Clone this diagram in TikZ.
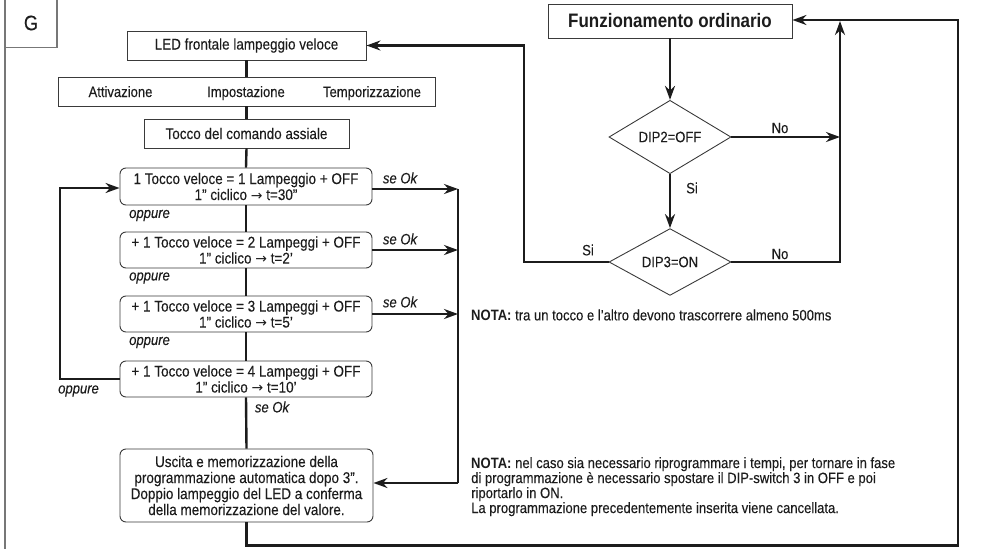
\documentclass[tikz,border=0pt]{standalone}
\usepackage{fontspec}
\setmainfont[FakeStretch=0.87, UprightFeatures={FakeBold=0.2}, ItalicFeatures={FakeBold=0.2}]{Liberation Sans}
\newfontfamily\arrowfont[Scale=0.9]{DejaVu Sans}
\newcommand{\myarrow}{{\arrowfont →}}
\usetikzlibrary{arrows.meta,shapes.geometric}
\definecolor{boxgray}{HTML}{3A3A3A}
\definecolor{linecol}{HTML}{1C1C1C}
\definecolor{framegray}{HTML}{777777}
\begin{document}
\begin{tikzpicture}[x=1pt,y=-1pt,
  box/.style={draw=boxgray, line width=0.9pt, inner sep=0pt, font=\fontsize{15.5}{16}\selectfont, text=linecol},
  rbox/.style={box, rounded corners=6pt, align=center, minimum width=252, minimum height=36},
  conn/.style={line width=2.4pt, draw=linecol},
  arr/.style={conn, -{Stealth[length=14pt,width=10pt]}},
  lbl/.style={font=\fontsize{15}{15}\selectfont\itshape, inner sep=0pt, text=linecol},
  plain/.style={font=\fontsize{15}{15}\selectfont, inner sep=0pt, text=linecol},
  dia/.style={draw=boxgray, line width=0.9pt, diamond, inner sep=0pt, minimum width=122, minimum height=62, font=\fontsize{15}{15}\selectfont, text=linecol}
]
\useasboundingbox (0,0) rectangle (1002,549);
% frame
\draw[framegray, line width=1.8pt] (5,0) -- (5,549);
\draw[framegray, line width=1.2pt] (5,47.5) -- (57,47.5) -- (57,0);
\node[font=\fontsize{21}{22}\selectfont, text=linecol] (g) at (31,23) {G};

% left column
\node[box, minimum width=239, minimum height=29] (led) at (246.5,45.5) {LED frontale lampeggio veloce};
\node[box, minimum width=377, minimum height=29] (att) at (246.5,91.5) {};
\node[plain, anchor=base] (t1) at (120.5,97) {Attivazione};
\node[plain, anchor=base] (t2) at (246,97) {Impostazione};
\node[plain, anchor=base] (t3) at (372,97) {Temporizzazione};
\node[box, minimum width=205, minimum height=29] (tocco) at (246.5,133.5) {Tocco del comando assiale};

\node[rbox, minimum height=37] (b1) at (246,186.5) {1 Tocco veloce = 1 Lampeggio + OFF\\1” ciclico \myarrow{} t=30”};
\node[rbox] (b2) at (246,250) {+ 1 Tocco veloce = 2 Lampeggi + OFF\\1” ciclico \myarrow{} t=2’};
\node[rbox] (b3) at (246,314) {+ 1 Tocco veloce = 3 Lampeggi + OFF\\1” ciclico \myarrow{} t=5’};
\node[rbox] (b4) at (246,379) {+ 1 Tocco veloce = 4 Lampeggi + OFF\\1” ciclico \myarrow{} t=10’};
\node[rbox, minimum width=253, minimum height=73] (usc) at (246.5,485.5) {Uscita e memorizzazione della\\programmazione automatica dopo 3”.\\Doppio lampeggio del LED a conferma\\della memorizzazione del valore.};

\node[lbl, anchor=west] (o1) at (129,215.5) {oppure};
\node[lbl, anchor=west] (o2) at (129,278) {oppure};
\node[lbl, anchor=west] (o3) at (129,342.5) {oppure};
\node[lbl, anchor=west] (o4) at (58,391) {oppure};

\node[lbl] (s1) at (400,178) {se Ok};
\node[lbl] (s2) at (400,239) {se Ok};
\node[lbl] (s3) at (400,302) {se Ok};
\node[lbl] (s4) at (272,407) {se Ok};

% vertical chain
\draw[conn] (led.south) -- (att.north);
\draw[conn] (att.south) -- (tocco.north);
\draw[conn] (tocco.south) -- (b1.north);
\draw[conn] (b1.south) -- (b2.north);
\draw[conn] (b2.south) -- (b3.north);
\draw[conn] (b3.south) -- (b4.north);
\draw[conn] (b4.south) -- (usc.north);

% se Ok arrows
\coordinate (v1) at (458,189);
\coordinate (v2) at (458,250);
\coordinate (v3) at (458,314);
\coordinate (v4) at (458,483);
\draw[arr] (b1.east |- v1) -- (v1);
\draw[arr] (b2.east) -- (v2);
\draw[arr] (b3.east) -- (v3);
\draw[conn] (v1) -- (v4);
\draw[arr] (v4) -- (usc.east |- v4);

% loop back
\coordinate (l1) at (60,379);
\coordinate (l2) at (60,188);
\draw[arr] (b4.west) -- (l1) -- (l2) -- (b1.west |- l2);

% right part
\node[box, font=\fontsize{19.5}{20}\selectfont\bfseries, minimum width=244, minimum height=34] (funz) at (670,21) {Funzionamento ordinario};
\node[dia] (d2) at (670,137) {DIP2=OFF};
\node[dia] (d3) at (670,262) {DIP3=ON};

\draw[arr] (funz.south) -- (d2.north);
\draw[arr] (d2.south) -- (d3.north);
\coordinate (n2) at (840,137);
\coordinate (n3) at (840,262);
\coordinate (n4) at (840,21);
\draw[arr] (d2.east) -- (n2);
\draw[arr] (d3.east) -- (n3) -- (n4);
\coordinate (s3a) at (524,262);
\coordinate (s3b) at (524,45.5);
\draw[arr] (d3.west) -- (s3a) -- (s3b) -- (led.east);

\node[plain] (lno1) at (780,128) {No};
\node[plain] (lno2) at (780,254) {No};
\node[plain] (lsi1) at (692,188) {Si};
\node[plain] (lsi2) at (588,250) {Si};

% bottom return
\coordinate (r1) at (246.5,545.5);
\coordinate (r2) at (958,545.5);
\coordinate (r3) at (958,20);
\draw[arr] (usc.south) -- (r1) -- (r2) -- (r3) -- (funz.east |- r3);

% notes
\node[plain, anchor=west] (nota1) at (471,315) {\textbf{NOTA:} tra un tocco e l’altro devono trascorrere almeno 500ms};
\node[plain, anchor=north west, align=left] (nota2) at (471,457) {\textbf{NOTA:} nel caso sia necessario riprogrammare i tempi, per tornare in fase\\di programmazione è necessario spostare il DIP-switch 3 in OFF e poi\\riportarlo in ON.\\La programmazione precedentemente inserita viene cancellata.};
\end{tikzpicture}
\end{document}
